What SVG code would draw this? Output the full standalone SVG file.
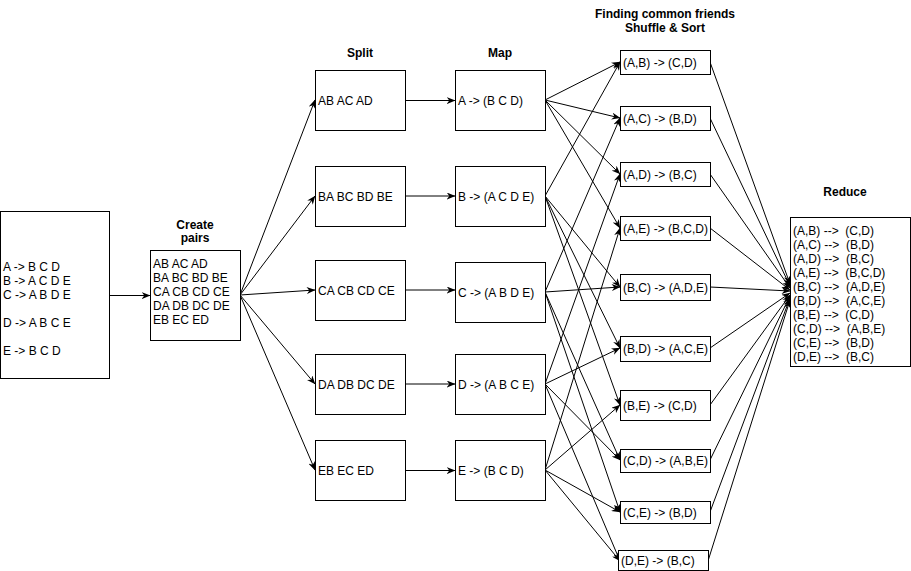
<svg xmlns="http://www.w3.org/2000/svg" width="911" height="571" viewBox="0 0 911 571">
<defs>
<marker id="arr" viewBox="0 0 10 8" refX="9.5" refY="4" markerWidth="9" markerHeight="7" orient="auto" markerUnits="userSpaceOnUse"><path d="M0,0 L10,4 L0,8 L3,4 z" fill="#000"/></marker>
<style>
.box{fill:#fff;stroke:#000;stroke-width:1}
.t{font-family:"Liberation Sans",Arial,Helvetica,sans-serif;font-size:12px;fill:#000}
.h{font-family:"Liberation Sans",Arial,Helvetica,sans-serif;font-size:12px;font-weight:bold;fill:#000;text-anchor:middle}
.e{fill:none;stroke:#000;stroke-width:1;marker-end:url(#arr)}
</style>
</defs>
<rect width="911" height="571" fill="#fff"/>

<g id="titles">
<text class="h" x="195" y="229">Create</text>
<text class="h" x="195" y="242">pairs</text>
<text class="h" x="360" y="57">Split</text>
<text class="h" x="500" y="57">Map</text>
<text class="h" x="665" y="18">Finding common friends</text>
<text class="h" x="665" y="32">Shuffle &amp; Sort</text>
<text class="h" x="845" y="196">Reduce</text>
</g>

<g id="connectors">
<line class="e" x1="110" y1="295.5" x2="150" y2="295.5"/>
<line class="e" x1="240" y1="295" x2="315" y2="100"/>
<line class="e" x1="240" y1="295" x2="315" y2="196"/>
<line class="e" x1="240" y1="295" x2="315" y2="290"/>
<line class="e" x1="240" y1="295" x2="315" y2="384"/>
<line class="e" x1="240" y1="295" x2="315" y2="470"/>
<line class="e" x1="405" y1="100.5" x2="455" y2="100.5"/>
<line class="e" x1="405" y1="196" x2="455" y2="196"/>
<line class="e" x1="405" y1="290" x2="455" y2="290"/>
<line class="e" x1="405" y1="384" x2="455" y2="384"/>
<line class="e" x1="405" y1="470.5" x2="455" y2="470.5"/>
<!-- map A -->
<line class="e" x1="545" y1="100" x2="620" y2="62"/>
<line class="e" x1="545" y1="100" x2="620" y2="118"/>
<line class="e" x1="545" y1="100" x2="620" y2="174"/>
<line class="e" x1="545" y1="100" x2="620" y2="228"/>
<!-- map B -->
<line class="e" x1="545" y1="196" x2="620" y2="62"/>
<line class="e" x1="545" y1="196" x2="620" y2="287"/>
<line class="e" x1="545" y1="196" x2="620" y2="348"/>
<line class="e" x1="545" y1="196" x2="620" y2="405"/>
<!-- map C -->
<line class="e" x1="545" y1="292" x2="620" y2="118"/>
<line class="e" x1="545" y1="292" x2="620" y2="287"/>
<line class="e" x1="545" y1="292" x2="620" y2="460"/>
<line class="e" x1="545" y1="292" x2="620" y2="512"/>
<!-- map D -->
<line class="e" x1="545" y1="384" x2="620" y2="174"/>
<line class="e" x1="545" y1="384" x2="620" y2="348"/>
<line class="e" x1="545" y1="384" x2="620" y2="460"/>
<line class="e" x1="545" y1="384" x2="620" y2="561"/>
<!-- map E -->
<line class="e" x1="545" y1="470" x2="620" y2="228"/>
<line class="e" x1="545" y1="470" x2="620" y2="405"/>
<line class="e" x1="545" y1="470" x2="620" y2="512"/>
<line class="e" x1="545" y1="470" x2="620" y2="561"/>
<!-- shuffle to reduce -->
<line class="e" x1="710" y1="62" x2="790" y2="284"/>
<line class="e" x1="710" y1="118" x2="790" y2="286"/>
<line class="e" x1="710" y1="174" x2="790" y2="288"/>
<line class="e" x1="710" y1="228" x2="790" y2="290"/>
<line class="e" x1="710" y1="287" x2="790" y2="291"/>
<line class="e" x1="710" y1="348" x2="790" y2="293"/>
<line class="e" x1="710" y1="405" x2="790" y2="295"/>
<line class="e" x1="710" y1="460" x2="790" y2="296"/>
<line class="e" x1="710" y1="512" x2="790" y2="298"/>
<line class="e" x1="708" y1="561" x2="790" y2="300"/>
</g>

<g id="input">
<rect class="box" x="0.5" y="211.5" width="109" height="167"/>
<text class="t" x="3" y="271">A -&gt; B C D</text>
<text class="t" x="3" y="285">B -&gt; A C D E</text>
<text class="t" x="3" y="299">C -&gt; A B D E</text>
<text class="t" x="3" y="327">D -&gt; A B C E</text>
<text class="t" x="3" y="355">E -&gt; B C D</text>
</g>

<g id="create-pairs">
<rect class="box" x="150.5" y="250.5" width="90" height="90"/>
<text class="t" x="153" y="268">AB AC AD</text>
<text class="t" x="153" y="282">BA BC BD BE</text>
<text class="t" x="153" y="296">CA CB CD CE</text>
<text class="t" x="153" y="310">DA DB DC DE</text>
<text class="t" x="153" y="324">EB EC ED</text>
</g>

<g id="split-a"><rect class="box" x="315.5" y="70.5" width="90" height="60"/><text class="t" x="318" y="104.5">AB AC AD</text></g>
<g id="split-b"><rect class="box" x="315.5" y="166.5" width="90" height="60"/><text class="t" x="318" y="200.5">BA BC BD BE</text></g>
<g id="split-c"><rect class="box" x="315.5" y="260.5" width="90" height="60"/><text class="t" x="318" y="294.5">CA CB CD CE</text></g>
<g id="split-d"><rect class="box" x="315.5" y="354.5" width="90" height="60"/><text class="t" x="318" y="388.5">DA DB DC DE</text></g>
<g id="split-e"><rect class="box" x="315.5" y="440.5" width="90" height="60"/><text class="t" x="318" y="474.5">EB EC ED</text></g>

<g id="map-a"><rect class="box" x="455.5" y="70.5" width="90" height="60"/><text class="t" x="458" y="104.5">A -&gt; (B C D)</text></g>
<g id="map-b"><rect class="box" x="455.5" y="166.5" width="90" height="60"/><text class="t" x="458" y="200.5">B -&gt; (A C D E)</text></g>
<g id="map-c"><rect class="box" x="455.5" y="262.5" width="90" height="60"/><text class="t" x="458" y="296.5">C -&gt; (A B D E)</text></g>
<g id="map-d"><rect class="box" x="455.5" y="354.5" width="90" height="60"/><text class="t" x="458" y="388.5">D -&gt; (A B C E)</text></g>
<g id="map-e"><rect class="box" x="455.5" y="440.5" width="90" height="60"/><text class="t" x="458" y="474.5">E -&gt; (B C D)</text></g>

<g id="sh-ab"><rect class="box" x="620.5" y="50.5" width="90" height="24"/><text class="t" x="623" y="66.5">(A,B) -&gt; (C,D)</text></g>
<g id="sh-ac"><rect class="box" x="620.5" y="106.5" width="90" height="24"/><text class="t" x="623" y="122.5">(A,C) -&gt; (B,D)</text></g>
<g id="sh-ad"><rect class="box" x="620.5" y="162.5" width="90" height="24"/><text class="t" x="623" y="178.5">(A,D) -&gt; (B,C)</text></g>
<g id="sh-ae"><rect class="box" x="620.5" y="216.5" width="90" height="24"/><text class="t" x="623" y="232.5">(A,E) -&gt; (B,C,D)</text></g>
<g id="sh-bc"><rect class="box" x="620.5" y="274.5" width="90" height="26"/><text class="t" x="623" y="291.5">(B,C) -&gt; (A,D,E)</text></g>
<g id="sh-bd"><rect class="box" x="620.5" y="336.5" width="90" height="25"/><text class="t" x="623" y="353">(B,D) -&gt; (A,C,E)</text></g>
<g id="sh-be"><rect class="box" x="620.5" y="390.5" width="90" height="30"/><text class="t" x="623" y="409.5">(B,E) -&gt; (C,D)</text></g>
<g id="sh-cd"><rect class="box" x="620.5" y="449.5" width="90" height="23"/><text class="t" x="623" y="465">(C,D) -&gt; (A,B,E)</text></g>
<g id="sh-ce"><rect class="box" x="620.5" y="501.5" width="90" height="22"/><text class="t" x="623" y="516.5">(C,E) -&gt; (B,D)</text></g>
<g id="sh-de"><rect class="box" x="618.5" y="550.5" width="90" height="20"/><text class="t" x="621" y="565">(D,E) -&gt; (B,C)</text></g>

<g id="reduce">
<rect class="box" x="790.5" y="217.5" width="120" height="149"/>
<text class="t" x="793" y="235" xml:space="preserve">(A,B) --&gt;  (C,D)</text>
<text class="t" x="793" y="249" xml:space="preserve">(A,C) --&gt;  (B,D)</text>
<text class="t" x="793" y="263" xml:space="preserve">(A,D) --&gt;  (B,C)</text>
<text class="t" x="793" y="277" xml:space="preserve">(A,E) --&gt;  (B,C,D)</text>
<text class="t" x="793" y="291" xml:space="preserve">(B,C) --&gt;  (A,D,E)</text>
<text class="t" x="793" y="305" xml:space="preserve">(B,D) --&gt;  (A,C,E)</text>
<text class="t" x="793" y="319" xml:space="preserve">(B,E) --&gt;  (C,D)</text>
<text class="t" x="793" y="333" xml:space="preserve">(C,D) --&gt;  (A,B,E)</text>
<text class="t" x="793" y="347" xml:space="preserve">(C,E) --&gt;  (B,D)</text>
<text class="t" x="793" y="361" xml:space="preserve">(D,E) --&gt;  (B,C)</text>
</g>
</svg>
